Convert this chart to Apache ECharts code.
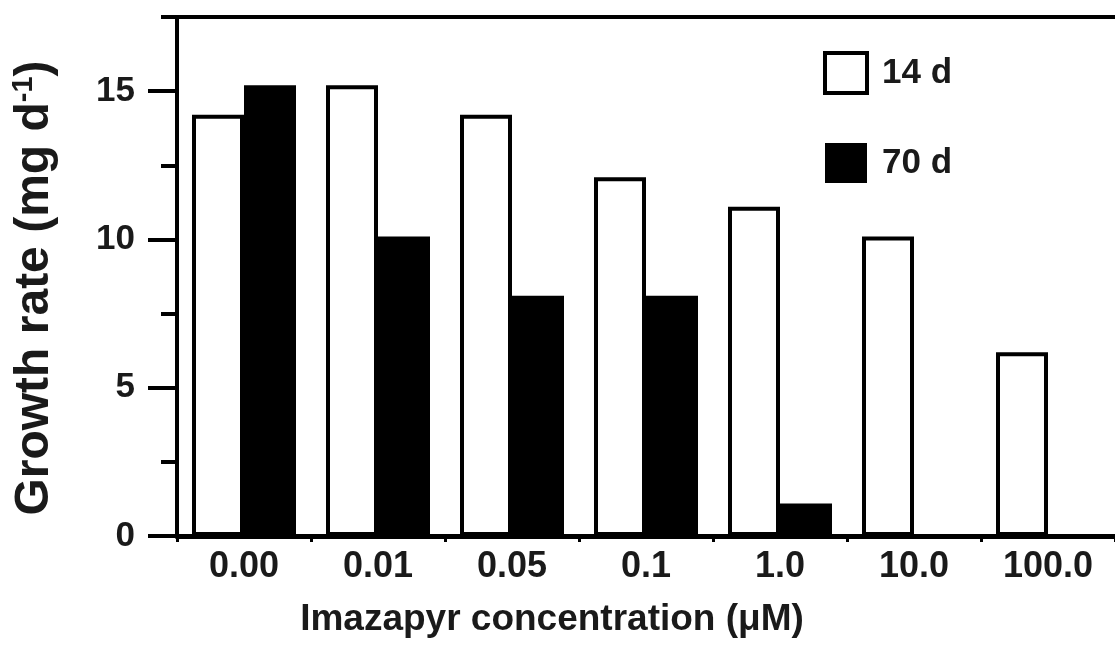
<!DOCTYPE html>
<html>
<head>
<meta charset="utf-8">
<script src="https://cdn.jsdelivr.net/npm/echarts@6/dist/echarts.min.js"></script>
<style>
html,body{margin:0;padding:0;background:#fff;}
#chart{width:1115px;height:662px;}
</style>
</head>
<body>
<div id="chart"></div>
<script>
var categories = ['0.00', '0.01', '0.05', '0.1', '1.0', '10.0', '100.0'];
var d14 = [14.2, 15.2, 14.2, 12.1, 11.1, 10.1, 6.2];
var d70 = [15.2, 10.1, 8.1, 8.1, 1.1, 0, 0];
var yMajorTicks = [0, 5, 10, 15];
var yMinorTicks = [2.5, 7.5, 12.5, 17.5];
var seriesNames = ['14 d', '70 d'];

var FONT = '"Liberation Sans", Arial, Helvetica, sans-serif';
var INK = '#1a1a1a';

var chart = echarts.init(document.getElementById('chart'), null, {renderer: 'canvas'});
chart.setOption({
  animation: false,
  backgroundColor: '#fff',
  grid: {left: 177, top: 17, right: -6, bottom: 126, containLabel: false},
  legend: {
    orient: 'vertical',
    left: 818,
    top: 46,
    itemWidth: 42,
    itemHeight: 40,
    itemGap: 48,
    icon: 'rect',
    textStyle: {fontFamily: FONT, fontWeight: 'bold', fontSize: 35, color: INK, padding: [0, 0, 0, 10]},
    data: [
      {name: seriesNames[0], itemStyle: {color: '#fff', borderColor: '#000', borderWidth: 4}},
      {name: seriesNames[1], itemStyle: {color: '#000', borderWidth: 0}}
    ]
  },
  xAxis: [{
    type: 'category',
    data: categories,
    position: 'bottom',
    axisLine: {show: true, onZero: false, lineStyle: {color: '#000', width: 5}},
    axisTick: {show: true, length: 6, lineStyle: {color: '#000', width: 3}},
    axisLabel: {fontFamily: FONT, fontWeight: 'bold', fontSize: 36, color: INK, margin: 13},
    splitLine: {show: false}
  }, {
    type: 'category',
    data: categories,
    position: 'top',
    axisLine: {show: true, onZero: false, lineStyle: {color: '#000', width: 4}},
    axisTick: {show: false},
    axisLabel: {show: false},
    splitLine: {show: false}
  }],
  yAxis: [{
    type: 'value',
    min: 0,
    max: 17.5,
    interval: 5,
    position: 'left',
    axisLine: {show: true, onZero: false, lineStyle: {color: '#000', width: 4}},
    axisTick: {show: true, customValues: yMajorTicks, length: 29, lineStyle: {color: '#000', width: 4}},
    axisLabel: {customValues: yMajorTicks, fontFamily: FONT, fontWeight: 'bold', fontSize: 35, color: INK, margin: 42},
    splitLine: {show: false}
  }, {
    type: 'value',
    min: 0,
    max: 17.5,
    interval: 2.5,
    position: 'left',
    axisLine: {show: false, onZero: false},
    axisTick: {show: true, customValues: yMinorTicks, length: 16, lineStyle: {color: '#000', width: 4}},
    axisLabel: {show: false},
    splitLine: {show: false}
  }],
  series: [{
    name: seriesNames[0],
    type: 'bar',
    data: d14,
    barWidth: 52,
    barGap: '0%',
    itemStyle: {color: '#fff', borderColor: '#000', borderWidth: 4}
  }, {
    name: seriesNames[1],
    type: 'bar',
    data: d70,
    barWidth: 52,
    barGap: '0%',
    itemStyle: {color: '#000', borderWidth: 0}
  }],
  graphic: [{
    type: 'text',
    x: 35,
    y: 288,
    rotation: Math.PI / 2,
    style: {
      text: '{a|Growth rate (mg d}{s|-1}{a|)}',
      align: 'center',
      verticalAlign: 'middle',
      fill: INK,
      rich: {
        a: {fontFamily: FONT, fontWeight: 'bold', fontSize: 48, fill: INK, lineHeight: 52},
        s: {fontFamily: FONT, fontWeight: 'bold', fontSize: 29, fill: INK, verticalAlign: 'top', lineHeight: 52, padding: [0, 0, 19, 0]}
      }
    }
  }, {
    type: 'text',
    x: 552,
    y: 620,
    style: {
      text: 'Imazapyr concentration (\u03bcM)',
      align: 'center',
      verticalAlign: 'middle',
      fontFamily: FONT,
      fontWeight: 'bold',
      fontSize: 37,
      fill: INK
    }
  }]
});
</script>
</body>
</html>
